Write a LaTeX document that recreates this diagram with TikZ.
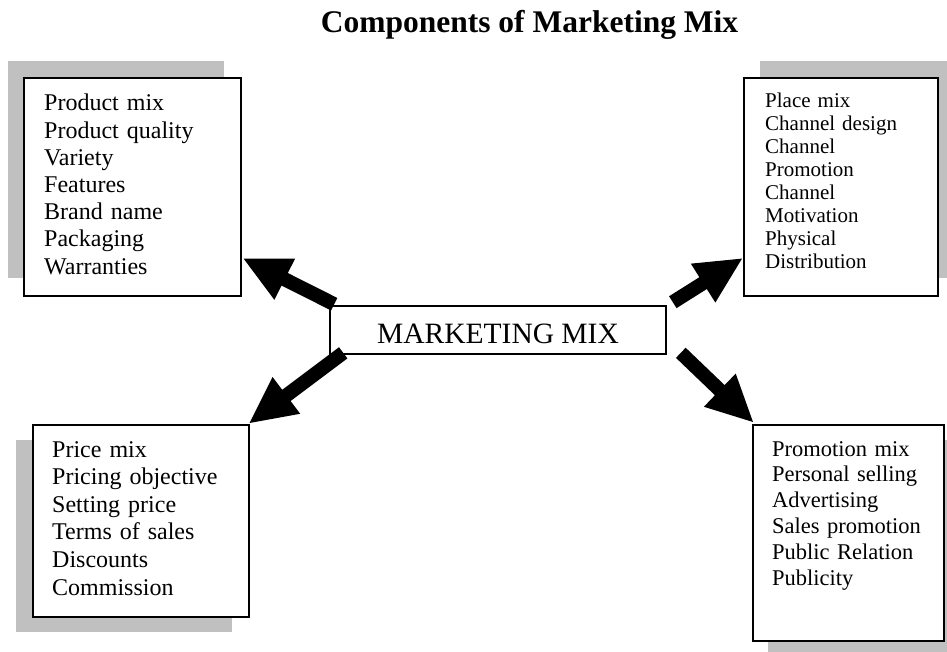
\documentclass[tikz,border=0pt]{standalone}
\usepackage{fontspec}
\setmainfont{Liberation Serif}
\usetikzlibrary{calc}
\definecolor{shade}{RGB}{192,192,192}
\tikzset{
  box/.style={draw=black, line width=1.6pt, fill=white, anchor=north west, inner sep=0pt},
  shadowbox/.style={fill=shade, draw=none, anchor=north west, inner sep=0pt},
  list/.style={anchor=base west, inner sep=0pt, align=left, text width=190pt},
  fatarrowstyle/.style={fill=black, draw=none}
}
% fat arrow from coordinate #1 (tail) to coordinate #2 (tip)
\newcommand\fatarrow[2]{%
  \path coordinate (fb) at ($(#2)!46pt!(#1)$);
  \fill[fatarrowstyle] ($(#1)!7pt!90:(#2)$) -- ($(fb)!7pt!90:(#2)$) -- ($(fb)!23pt!90:(#2)$)
    -- (#2) -- ($(fb)!23pt!-90:(#2)$) -- ($(fb)!7pt!-90:(#2)$) -- ($(#1)!7pt!-90:(#2)$) -- cycle;
}
\begin{document}
\begin{tikzpicture}[x=1pt,y=-1pt]
\useasboundingbox (0,0) rectangle (947,652);
% title
\node[anchor=base, inner sep=0pt, font=\fontsize{31.5}{34}\selectfont\bfseries] (title) at (529.5,33) {Components of Marketing Mix};
% shadows
\node[shadowbox, minimum width=216pt, minimum height=217pt] (prodsh) at (8,61) {};
\node[shadowbox, minimum width=194pt, minimum height=217pt] (placesh) at (760,61) {};
\node[shadowbox, minimum width=216pt, minimum height=192pt] (pricesh) at (16,440) {};
\node[shadowbox, minimum width=191pt, minimum height=216pt] (promosh) at (768,440) {};
% boxes
\node[box, minimum width=217pt, minimum height=218pt] (prod) at (23,77) {};
\node[box, minimum width=194pt, minimum height=218pt] (place) at (743,77) {};
\node[box, minimum width=216pt, minimum height=192pt] (price) at (32,424) {};
\node[box, minimum width=191pt, minimum height=216pt] (promo) at (752,424) {};
\node[draw=black, line width=1.6pt, fill=white, minimum width=336pt, minimum height=48pt, inner sep=0pt,
      text height=26.6pt, text depth=0pt, font=\fontsize{29.5}{32}\selectfont] (mm) at (498,330) {MARKETING MIX};
% texts
\node[list, font=\fontsize{24}{27.2}\selectfont] (prodtxt) at (44,111)
  {Product mix\\Product quality\\Variety\\Features\\Brand name\\Packaging\\Warranties};
\node[list, font=\fontsize{21}{22.9}\selectfont] (placetxt) at (765,108)
  {Place mix\\Channel design\\Channel\\Promotion\\Channel\\Motivation\\Physical\\Distribution};
\node[list, font=\fontsize{24}{27.6}\selectfont] (pricetxt) at (52,457)
  {Price mix\\Pricing objective\\Setting price\\Terms of sales\\Discounts\\Commission};
\node[list, font=\fontsize{22.5}{25.8}\selectfont] (promotxt) at (772,456)
  {Promotion mix\\Personal selling\\Advertising\\Sales promotion\\Public Relation\\Publicity};
% arrow end points
\coordinate (a1s) at ($(mm.north west)+(5,-1)$);
\coordinate (a1e) at ($(prod.south east)+(2,-38)$);
\coordinate (a2s) at ($(mm.south west)+(14,-2)$);
\coordinate (a2e) at ($(price.north east)+(0,-1)$);
\coordinate (a3s) at ($(mm.north east)+(6,-3)$);
\coordinate (a3e) at ($(place.south west)+(-1,-38)$);
\coordinate (a4s) at ($(mm.south east)+(14,-2)$);
\coordinate (a4e) at ($(promo.north west)+(1,-2)$);
\fatarrow{a1s}{a1e}
\fatarrow{a2s}{a2e}
\fatarrow{a3s}{a3e}
\fatarrow{a4s}{a4e}
\end{tikzpicture}
\end{document}
